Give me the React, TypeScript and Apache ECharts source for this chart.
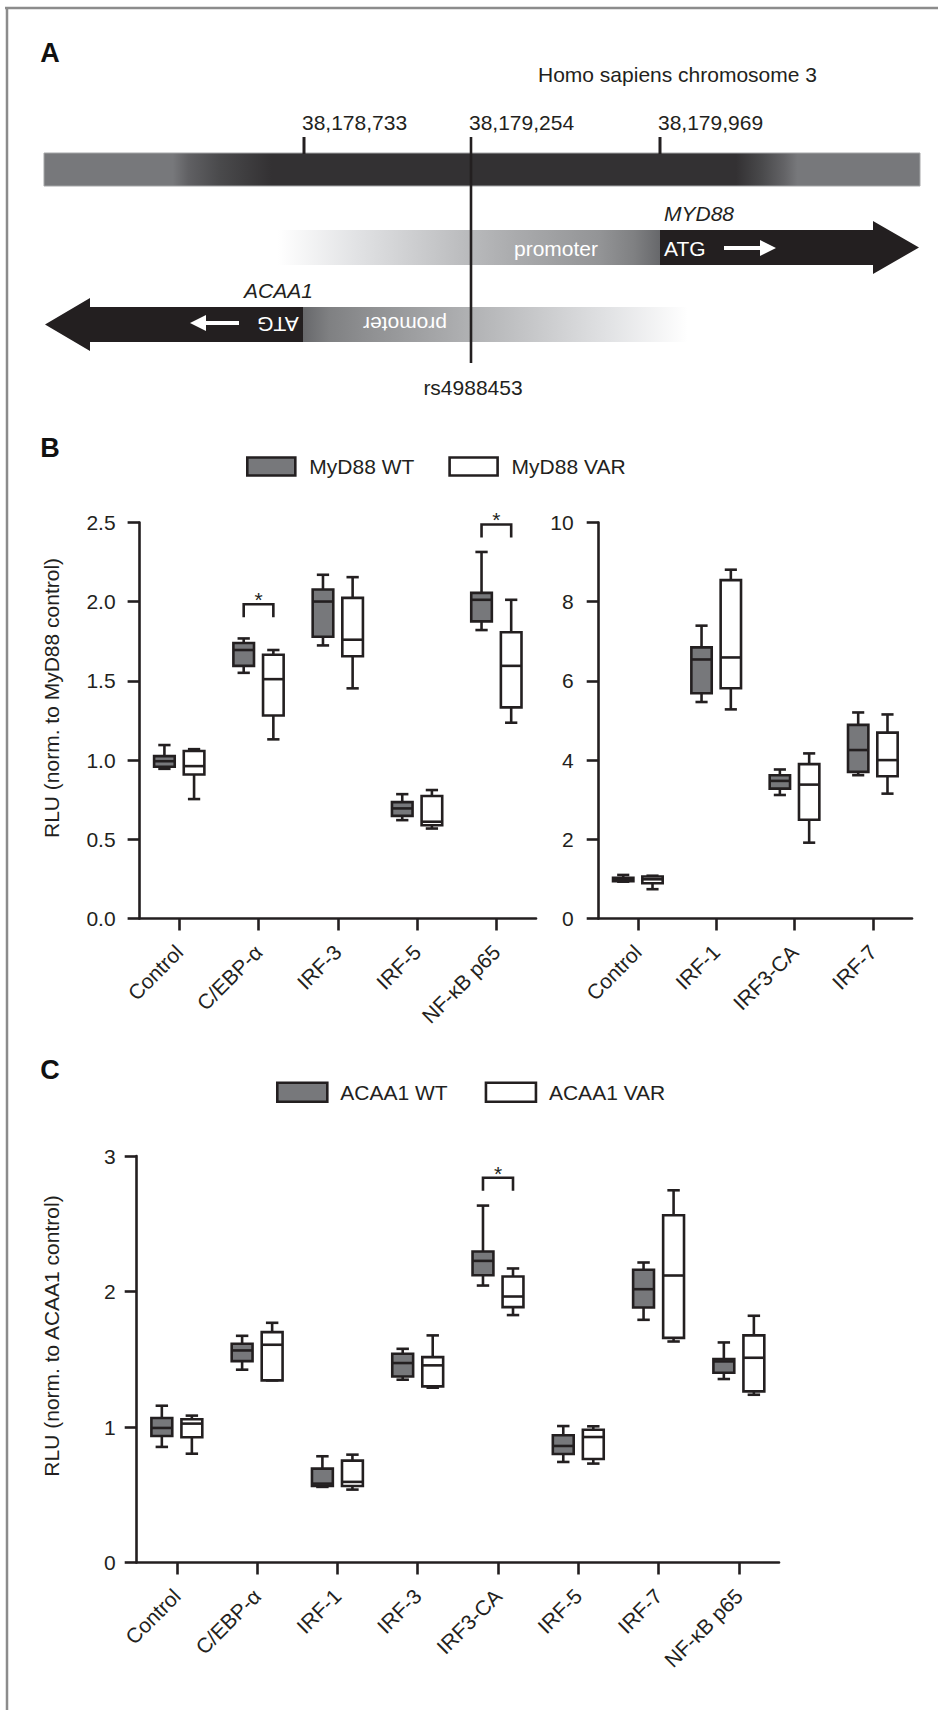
import React, { useEffect, useRef } from "react";
import * as echarts from "echarts";

const FONT = "'Liberation Sans', Arial, Helvetica, sans-serif";
const DARK = "#231f20";
const WT_FILL = "#77787b";
const VAR_FILL = "#ffffff";

// Panel B (left): [min, Q1, median, Q3, max]
const bLeftCategories = ["Control", "C/EBP-α", "IRF-3", "IRF-5", "NF-κB p65"];
const bLeftWT = [
  [0.945, 0.958, 0.993, 1.025, 1.095],
  [1.551, 1.595, 1.695, 1.739, 1.768],
  [1.724, 1.779, 2.001, 2.077, 2.17],
  [0.621, 0.648, 0.695, 0.735, 0.785],
  [1.821, 1.876, 2.012, 2.056, 2.314],
];
const bLeftVAR = [
  [0.754, 0.909, 0.962, 1.057, 1.069],
  [1.131, 1.282, 1.511, 1.665, 1.695],
  [1.453, 1.656, 1.76, 2.024, 2.155],
  [0.568, 0.589, 0.611, 0.773, 0.811],
  [1.236, 1.333, 1.595, 1.807, 2.012],
];
// [category index, bracket level, bracket leg end]
const bLeftSig = [
  [1, 1.984, 1.902],
  [4, 2.487, 2.405],
];
const bLeftTicks = { max: 2.5, interval: 0.5 };

// Panel B (right)
const bRightCategories = ["Control", "IRF-1", "IRF3-CA", "IRF-7"];
const bRightWT = [
  [0.93, 0.94, 0.98, 1.03, 1.1],
  [5.467, 5.687, 6.541, 6.846, 7.395],
  [3.119, 3.28, 3.475, 3.619, 3.763],
  [3.619, 3.703, 4.254, 4.89, 5.203],
];
const bRightVAR = [
  [0.74, 0.89, 0.99, 1.06, 1.08],
  [5.281, 5.814, 6.592, 8.545, 8.808],
  [1.915, 2.492, 3.381, 3.898, 4.169],
  [3.153, 3.593, 4.0, 4.695, 5.153],
];
const bRightTicks = { max: 10, interval: 2 };

// Panel C
const cCategories = ["Control", "C/EBP-α", "IRF-1", "IRF-3", "IRF3-CA", "IRF-5", "IRF-7", "NF-κB p65"];
const cWT = [
  [0.853, 0.934, 0.993, 1.066, 1.157],
  [1.423, 1.486, 1.565, 1.614, 1.673],
  [0.558, 0.565, 0.582, 0.693, 0.784],
  [1.349, 1.373, 1.472, 1.541, 1.577],
  [2.044, 2.12, 2.226, 2.295, 2.634],
  [0.742, 0.801, 0.86, 0.939, 1.007],
  [1.791, 1.882, 2.017, 2.16, 2.214],
  [1.354, 1.4, 1.484, 1.501, 1.624],
];
const cVAR = [
  [0.803, 0.924, 1.025, 1.057, 1.084],
  [1.344, 1.344, 1.607, 1.7, 1.769],
  [0.538, 0.565, 0.595, 0.752, 0.796],
  [1.29, 1.3, 1.455, 1.516, 1.676],
  [1.826, 1.885, 1.963, 2.111, 2.17],
  [0.73, 0.764, 0.926, 0.98, 1.005],
  [1.631, 1.658, 2.118, 2.563, 2.747],
  [1.238, 1.263, 1.511, 1.676, 1.821],
];
const cSig = [[4, 2.84, 2.744]];
const cTicks = { max: 3, interval: 1 };

// Panel A texts
const chromosomeTitle = "Homo sapiens chromosome 3";
const positionLabels = ["38,178,733", "38,179,254", "38,179,969"];
const snpLabel = "rs4988453";

const LW = 2.6;

function boxRender(fill: string, side: number) {
  return (params: any, api: any) => {
    const cat = api.value(0);
    const vals = [1, 2, 3, 4, 5].map((i) => api.value(i));
    const band = api.size([1, 0])[0];
    const cx = api.coord([cat, 0])[0] + side * band * 0.187;
    const bw = band * 0.26;
    const cw = band * 0.155;
    const y = vals.map((v: number) => api.coord([cat, v])[1]);
    const st = { stroke: DARK, lineWidth: LW, fill: "none" };
    return {
      type: "group",
      children: [
        { type: "line", shape: { x1: cx, y1: y[4], x2: cx, y2: y[3] }, style: st },
        { type: "line", shape: { x1: cx, y1: y[0], x2: cx, y2: y[1] }, style: st },
        { type: "line", shape: { x1: cx - cw / 2, y1: y[4], x2: cx + cw / 2, y2: y[4] }, style: st },
        { type: "line", shape: { x1: cx - cw / 2, y1: y[0], x2: cx + cw / 2, y2: y[0] }, style: st },
        {
          type: "rect",
          shape: { x: cx - bw / 2, y: y[3], width: bw, height: Math.max(y[1] - y[3], 1) },
          style: { fill, stroke: DARK, lineWidth: LW },
        },
        { type: "line", shape: { x1: cx - bw / 2, y1: y[2], x2: cx + bw / 2, y2: y[2] }, style: st },
      ],
    };
  };
}

function sigRender(params: any, api: any) {
  const cat = api.value(0);
  const band = api.size([1, 0])[0];
  const xc = api.coord([cat, 0])[0];
  const off = band * 0.187;
  const yt = api.coord([cat, api.value(1)])[1];
  const yl = api.coord([cat, api.value(2)])[1];
  return {
    type: "group",
    children: [
      {
        type: "polyline",
        shape: { points: [[xc - off, yl], [xc - off, yt], [xc + off, yt], [xc + off, yl]] },
        style: { stroke: DARK, lineWidth: LW, fill: "none" },
      },
      {
        type: "text",
        style: { text: "*", x: xc, y: yt - 4.6, align: "center", verticalAlign: "middle", fontSize: 21, fill: DARK, fontFamily: FONT },
      },
    ],
  };
}

function xAxisFor(gridIndex: number, data: string[]) {
  return {
    type: "category",
    gridIndex,
    data,
    boundaryGap: true,
    axisLine: { show: true, lineStyle: { color: DARK, width: LW } },
    axisTick: { show: true, alignWithLabel: true, length: 12, lineStyle: { color: DARK, width: LW } },
    axisLabel: { rotate: 45, interval: 0, margin: 30, fontSize: 21, color: DARK, fontFamily: FONT },
    splitLine: { show: false },
  };
}

function yAxisFor(gridIndex: number, t: { max: number; interval: number }, decimals: number, margin: number) {
  return {
    type: "value",
    gridIndex,
    min: 0,
    max: t.max,
    interval: t.interval,
    axisLine: { show: true, lineStyle: { color: DARK, width: LW } },
    axisTick: { show: true, length: 12, lineStyle: { color: DARK, width: LW } },
    axisLabel: {
      margin,
      fontSize: 21,
      color: DARK,
      fontFamily: FONT,
      formatter: (v: number) => v.toFixed(decimals),
    },
    splitLine: { show: false },
  };
}

function boxSeries(name: string, grid: number, data: number[][], fill: string, side: number) {
  return {
    type: "custom",
    name,
    xAxisIndex: grid,
    yAxisIndex: grid,
    coordinateSystem: "cartesian2d",
    silent: true,
    itemStyle: { color: fill, borderColor: DARK, borderWidth: LW },
    renderItem: boxRender(fill, side),
    encode: { x: 0, y: [1, 2, 3, 4, 5] },
    data: data.map((d, i) => [i, ...d]),
    z: 5,
  };
}

function sigSeries(grid: number, data: number[][]) {
  return {
    type: "custom",
    name: "sig" + grid,
    xAxisIndex: grid,
    yAxisIndex: grid,
    coordinateSystem: "cartesian2d",
    silent: true,
    renderItem: sigRender,
    encode: { x: 0, y: [1, 2] },
    data,
    z: 6,
  };
}

function legendItem(name: string, fill: string) {
  return { name, icon: "rect", itemStyle: { color: fill, borderColor: DARK, borderWidth: LW } };
}

function txt(text: string, x: number, y: number, extra: any = {}, styleExtra: any = {}) {
  return {
    type: "text",
    x,
    y,
    ...extra,
    style: { text, fontSize: 21, fontFamily: FONT, fill: DARK, align: "left", verticalAlign: "middle", ...styleExtra },
  };
}

function panelAGraphics() {
  const G = echarts.graphic;
  const barGrad = new G.LinearGradient(0, 0, 1, 0, [
    { offset: 0, color: "#77787b" },
    { offset: 0.147, color: "#77787b" },
    { offset: 0.165, color: "#606063" },
    { offset: 0.2, color: "#4a4a4c" },
    { offset: 0.26, color: "#333133" },
    { offset: 0.79, color: "#333133" },
    { offset: 0.82, color: "#4a4a4c" },
    { offset: 0.845, color: "#636366" },
    { offset: 0.86, color: "#77787b" },
    { offset: 1, color: "#77787b" },
  ]);
  const mydGrad = new G.LinearGradient(0, 0, 1, 0, [
    { offset: 0, color: "#ffffff" },
    { offset: 0.2, color: "#e2e3e5" },
    { offset: 0.5, color: "#b9babc" },
    { offset: 0.62, color: "#aaabad" },
    { offset: 0.84, color: "#939496" },
    { offset: 0.93, color: "#7f8082" },
    { offset: 1, color: "#66676a" },
  ]);
  const acaGrad = new G.LinearGradient(0, 0, 1, 0, [
    { offset: 0, color: "#66676a" },
    { offset: 0.07, color: "#7f8082" },
    { offset: 0.16, color: "#8d8e90" },
    { offset: 0.38, color: "#a9aaac" },
    { offset: 0.5, color: "#b9babc" },
    { offset: 0.8, color: "#e2e3e5" },
    { offset: 1, color: "#ffffff" },
  ]);
  const tickStyle = { stroke: DARK, lineWidth: 3 };
  return [
    // frame
    { type: "line", shape: { x1: 5, y1: 8, x2: 938, y2: 8 }, style: { stroke: "#8c8c8c", lineWidth: 2.5 } },
    { type: "line", shape: { x1: 7, y1: 8, x2: 7, y2: 1710 }, style: { stroke: "#8c8c8c", lineWidth: 2.5 } },
    // panel letters
    txt("A", 50, 53, {}, { fontSize: 27, fontWeight: "bold", align: "center", fill: "#111" }),
    txt("B", 50, 448, {}, { fontSize: 27, fontWeight: "bold", align: "center", fill: "#111" }),
    txt("C", 50, 1070, {}, { fontSize: 27, fontWeight: "bold", align: "center", fill: "#111" }),
    // chromosome
    txt(chromosomeTitle, 538, 74),
    txt(positionLabels[0], 302, 122),
    txt(positionLabels[1], 469, 122),
    txt(positionLabels[2], 658, 122),
    { type: "rect", shape: { x: 44, y: 153, width: 876, height: 33 }, style: { fill: barGrad, stroke: "#a5a6a8", lineWidth: 1 } },
    { type: "line", shape: { x1: 304, y1: 137, x2: 304, y2: 154 }, style: tickStyle },
    { type: "line", shape: { x1: 660, y1: 137, x2: 660, y2: 154 }, style: tickStyle },
    // MYD88
    { type: "rect", shape: { x: 278, y: 230, width: 383, height: 35 }, style: { fill: mydGrad } },
    {
      type: "polygon",
      shape: { points: [[660, 230], [873, 230], [873, 221], [919, 247.5], [873, 274], [873, 265], [660, 265]] },
      style: { fill: "#231f20" },
    },
    txt("MYD88", 664, 213, {}, { fontStyle: "italic" }),
    txt("promoter", 556, 248, {}, { align: "center", fill: "#ffffff" }),
    txt("ATG", 664, 248, {}, { fill: "#ffffff" }),
    {
      type: "polygon",
      shape: { points: [[724, 246], [760, 246], [760, 240], [776, 248], [760, 256], [760, 250], [724, 250]] },
      style: { fill: "#ffffff" },
    },
    // ACAA1
    { type: "rect", shape: { x: 302, y: 307, width: 386, height: 35 }, style: { fill: acaGrad } },
    {
      type: "polygon",
      shape: { points: [[303, 307], [90, 307], [90, 298], [45, 324.5], [90, 351], [90, 342], [303, 342]] },
      style: { fill: "#231f20" },
    },
    txt("ACAA1", 244, 290, {}, { fontStyle: "italic" }),
    txt("promoter", 405, 324, { rotation: Math.PI }, { align: "center", fill: "#ffffff" }),
    txt("ATG", 278, 324, { rotation: Math.PI }, { align: "center", fill: "#ffffff" }),
    {
      type: "polygon",
      shape: { points: [[239, 321], [206, 321], [206, 315], [190, 323], [206, 331], [206, 325], [239, 325]] },
      style: { fill: "#ffffff" },
    },
    // SNP line
    { type: "line", shape: { x1: 471, y1: 137, x2: 471, y2: 363 }, style: { stroke: DARK, lineWidth: 2.6 } },
    txt(snpLabel, 473, 387, {}, { align: "center" }),
    // y axis titles
    txt("RLU (norm. to MyD88 control)", 51, 698, { rotation: Math.PI / 2 }, { align: "center" }),
    txt("RLU (norm. to ACAA1 control)", 51, 1336, { rotation: Math.PI / 2 }, { align: "center" }),
  ];
}

function buildOption() {
  return {
    animation: false,
    backgroundColor: "#ffffff",
    textStyle: { fontFamily: FONT },
    grid: [
      { left: 139.6, top: 522.5, width: 396.4, height: 396 },
      { left: 598.7, top: 522.5, width: 313.3, height: 396 },
      { left: 136.7, top: 1156, width: 642.3, height: 406.5 },
    ],
    legend: [
      {
        left: 246,
        top: 456,
        padding: 0,
        itemWidth: 48,
        itemHeight: 18,
        itemGap: 34,
        selectedMode: false,
        textStyle: { fontSize: 21, color: DARK, fontFamily: FONT, padding: [0, 0, 0, 9] },
        data: [legendItem("MyD88 WT", WT_FILL), legendItem("MyD88 VAR", VAR_FILL)],
      },
      {
        left: 276,
        top: 1081.5,
        padding: 0,
        itemWidth: 50,
        itemHeight: 19,
        itemGap: 37,
        selectedMode: false,
        textStyle: { fontSize: 21, color: DARK, fontFamily: FONT, padding: [0, 0, 0, 8] },
        data: [legendItem("ACAA1 WT", WT_FILL), legendItem("ACAA1 VAR", VAR_FILL)],
      },
    ],
    xAxis: [xAxisFor(0, bLeftCategories), xAxisFor(1, bRightCategories), xAxisFor(2, cCategories)],
    yAxis: [yAxisFor(0, bLeftTicks, 1, 24), yAxisFor(1, bRightTicks, 0, 25), yAxisFor(2, cTicks, 0, 21)],
    series: [
      boxSeries("MyD88 WT", 0, bLeftWT, WT_FILL, -1),
      boxSeries("MyD88 VAR", 0, bLeftVAR, VAR_FILL, 1),
      sigSeries(0, bLeftSig),
      boxSeries("MyD88 WT", 1, bRightWT, WT_FILL, -1),
      boxSeries("MyD88 VAR", 1, bRightVAR, VAR_FILL, 1),
      boxSeries("ACAA1 WT", 2, cWT, WT_FILL, -1),
      boxSeries("ACAA1 VAR", 2, cVAR, VAR_FILL, 1),
      sigSeries(2, cSig),
    ],
    graphic: panelAGraphics(),
  };
}

export default function App() {
  const ref = useRef<HTMLDivElement>(null);
  useEffect(() => {
    document.body.style.margin = "0";
    const chart = echarts.init(ref.current!, null, { renderer: "svg" });
    chart.setOption(buildOption() as any);
    return () => chart.dispose();
  }, []);
  return <div ref={ref} style={{ width: 938, height: 1710 }} />;
}
